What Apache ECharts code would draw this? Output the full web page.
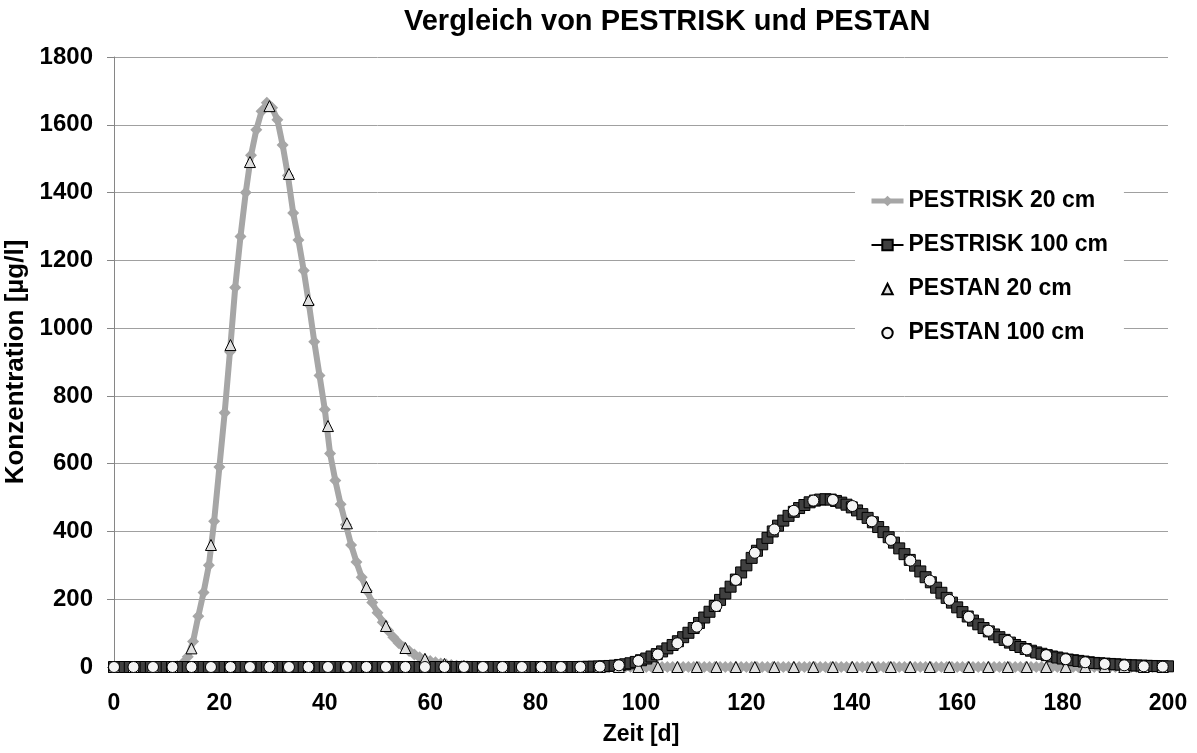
<!DOCTYPE html>
<html>
<head>
<meta charset="utf-8">
<script src="https://cdn.jsdelivr.net/npm/echarts@6/dist/echarts.min.js"></script>
<style>
  html, body { margin: 0; padding: 0; background: #fff; }
  #chart { width: 1197px; height: 753px; }
</style>
</head>
<body>
<div id="chart"></div>
<script>
// Zeitachse PESTRISK (Tage)
const riskDays = [
  0, 1, 2, 3, 4, 5, 6, 7, 8, 9, 10, 11, 12, 13, 14, 15, 16, 17, 18, 19,
  20, 21, 22, 23, 24, 25, 26, 27, 28, 29, 30, 31, 32, 33, 34, 35, 36, 37, 38, 39,
  40, 41, 42, 43, 44, 45, 46, 47, 48, 49, 50, 51, 52, 53, 54, 55, 56, 57, 58, 59,
  60, 61, 62, 63, 64, 65, 66, 67, 68, 69, 70, 71, 72, 73, 74, 75, 76, 77, 78, 79,
  80, 81, 82, 83, 84, 85, 86, 87, 88, 89, 90, 91, 92, 93, 94, 95, 96, 97, 98, 99,
  100, 101, 102, 103, 104, 105, 106, 107, 108, 109, 110, 111, 112, 113, 114, 115, 116, 117, 118, 119,
  120, 121, 122, 123, 124, 125, 126, 127, 128, 129, 130, 131, 132, 133, 134, 135, 136, 137, 138, 139,
  140, 141, 142, 143, 144, 145, 146, 147, 148, 149, 150, 151, 152, 153, 154, 155, 156, 157, 158, 159,
  160, 161, 162, 163, 164, 165, 166, 167, 168, 169, 170, 171, 172, 173, 174, 175, 176, 177, 178, 179,
  180, 181, 182, 183, 184, 185, 186, 187, 188, 189, 190, 191, 192, 193, 194, 195, 196, 197, 198, 199,
  200
]
const risk20 = [
  0, 0, 0, 0, 0, 0, 0, 0, 0, 0, 0, 0, 2, 10, 30, 75, 150, 220, 300, 430,
  590, 750, 930, 1120, 1270, 1400, 1510, 1585, 1640, 1665, 1650, 1615, 1540, 1450, 1340, 1260, 1170, 1070, 960, 860,
  760, 630, 550, 480, 420, 360, 310, 265, 225, 190, 160, 132, 108, 88, 71, 58, 47, 37, 29, 23,
  18, 14, 10, 8, 6, 4, 3, 2, 1, 1, 0, 0, 0, 0, 0, 0, 0, 0, 0, 0,
  0, 0, 0, 0, 0, 0, 0, 0, 0, 0, 0, 0, 0, 0, 0, 0, 0, 0, 0, 0,
  0, 0, 0, 0, 0, 0, 0, 0, 0, 0, 0, 0, 0, 0, 0, 0, 0, 0, 0, 0,
  0, 0, 0, 0, 0, 0, 0, 0, 0, 0, 0, 0, 0, 0, 0, 0, 0, 0, 0, 0,
  0, 0, 0, 0, 0, 0, 0, 0, 0, 0, 0, 0, 0, 0, 0, 0, 0, 0, 0, 0,
  0, 0, 0, 0, 0, 0, 0, 0, 0, 0, 0, 0, 0, 0, 0, 0, 0, 0, 0, 0,
  0, 0, 0, 0, 0, 0, 0, 0, 0, 0, 0, 0, 0, 0, 0, 0, 0, 0, 0, 0,
  0
]
const risk100 = [
  0, 0, 0, 0, 0, 0, 0, 0, 0, 0, 0, 0, 0, 0, 0, 0, 0, 0, 0, 0,
  0, 0, 0, 0, 0, 0, 0, 0, 0, 0, 0, 0, 0, 0, 0, 0, 0, 0, 0, 0,
  0, 0, 0, 0, 0, 0, 0, 0, 0, 0, 0, 0, 0, 0, 0, 0, 0, 0, 0, 0,
  0, 0, 0, 0, 0, 0, 0, 0, 0, 0, 0, 0, 0, 0, 0, 0, 0, 0, 0, 0,
  0, 0, 0, 0, 0, 0, 0, 0, 0, 0.3, 0.5, 1, 1.5, 2, 3, 4, 6, 8, 11, 15,
  20, 25, 31, 38, 46, 55, 65, 76, 88, 101, 115, 130, 146, 163, 180, 198, 217, 237, 258, 279,
  300, 322, 343, 362, 381, 400, 417, 432, 446, 458, 469, 478, 486, 491, 494, 495, 494, 490, 485, 479,
  471, 462, 451, 440, 427, 413, 398, 383, 367, 350, 333, 316, 299, 282, 265, 250, 234, 219, 204, 190,
  176, 162, 149, 137, 126, 115, 105, 96, 88, 80, 72, 65, 59, 53, 48, 43, 39, 35, 31, 28,
  25, 22, 20, 18, 16, 14, 12, 11, 10, 9, 8, 7, 6, 5, 4.5, 4, 3.5, 3, 2.5, 2,
  2
]
// Zeitachse PESTAN (Tage)
const pestanDays = [
  0, 3.7, 7.4, 11.1, 14.7, 18.4, 22.1, 25.8, 29.5, 33.2,
  36.9, 40.6, 44.2, 47.9, 51.6, 55.3, 59.0, 62.7, 66.4, 70.0,
  73.7, 77.4, 81.1, 84.8, 88.5, 92.2, 95.8, 99.5, 103.2, 106.9,
  110.6, 114.3, 118.0, 121.6, 125.3, 129.0, 132.7, 136.4, 140.1, 143.8,
  147.4, 151.1, 154.8, 158.5, 162.2, 165.9, 169.6, 173.2, 176.9, 180.6,
  184.3, 188.0, 191.7, 195.4, 199.0
]
const pestan20 = [
  0, 0, 0, 0, 55, 360, 950, 1490, 1655, 1455,
  1083, 711, 424, 236, 121, 56, 24, 9, 3, 1,
  0, 0, 0, 0, 0, 0, 0, 0, 0, 0,
  0, 0, 0, 0, 0, 0, 0, 0, 0, 0,
  0, 0, 0, 0, 0, 0, 0, 0, 0, 0,
  0, 0, 0, 0, 0
]
const pestan100 = [
  0, 0, 0, 0, 0, 0, 0, 0, 0, 0,
  0, 0, 0, 0, 0, 0, 0, 0, 0, 0,
  0, 0, 0, 0, 0, 1, 5, 18, 37, 70,
  119, 180, 257, 337, 406, 461, 491, 493, 475, 430,
  375, 314, 255, 198, 148, 107, 77, 52, 35, 23,
  14, 9, 5, 2, 1
]
const xTicks = { min: 0, max: 200, interval: 20 }
const yTicks = { min: 0, max: 1800, interval: 200 }

const pairs = (xs, ys) => xs.map((x, i) => [x, ys[i]])

const chart = echarts.init(document.getElementById('chart'))
const font = 'Liberation Sans, Arial, sans-serif'
const bold = { fontWeight: 'bold', color: '#000', fontFamily: font }
const option = {
  animation: false,
  textStyle: { fontFamily: font },
  title: {
    text: 'Vergleich von PESTRISK und PESTAN',
    left: 399,
    top: 2,
    textStyle: { ...bold, fontSize: 29 }
  },
  grid: { left: 114, right: 29, top: 57, bottom: 86, outerBoundsMode: 'none' },
  legend: {
    orient: 'vertical',
    left: 855,
    top: 179,
    backgroundColor: '#fff',
    padding: [10, 16, 10, 14],
    itemGap: 20,
    itemWidth: 32,
    itemHeight: 13,
    textStyle: { ...bold, fontSize: 23, lineHeight: 24 },
    data: [
      { name: 'PESTRISK 20 cm', lineStyle: { width: 5 } },
      { name: 'PESTRISK 100 cm' },
      { name: 'PESTAN 20 cm' },
      { name: 'PESTAN 100 cm' }
    ]
  },
  xAxis: {
    type: 'value',
    min: xTicks.min,
    max: xTicks.max,
    interval: xTicks.interval,
    name: 'Zeit [d]',
    nameLocation: 'middle',
    nameGap: 56,
    nameTextStyle: { ...bold, fontSize: 23 },
    axisLine: { lineStyle: { color: '#868686', width: 1 } },
    axisTick: { show: true, length: 5, lineStyle: { color: '#868686' } },
    axisLabel: { ...bold, fontSize: 23, margin: 25, formatter: v => String(v) },
    splitLine: { show: false }
  },
  yAxis: {
    type: 'value',
    min: yTicks.min,
    max: yTicks.max,
    interval: yTicks.interval,
    name: 'Konzentration [µg/l]',
    nameLocation: 'middle',
    nameGap: 81,
    nameTextStyle: { ...bold, fontSize: 26 },
    axisLine: { show: true, lineStyle: { color: '#868686', width: 1 } },
    axisTick: { show: true, length: 7, lineStyle: { color: '#868686' } },
    axisLabel: { ...bold, fontSize: 24, margin: 21, formatter: v => String(v) },
    splitLine: { lineStyle: { color: '#a0a0a0', width: 1 } }
  },
  series: [
    {
      name: 'PESTRISK 20 cm',
      type: 'line',
      data: pairs(riskDays, risk20),
      symbol: 'diamond',
      symbolSize: 12,
      showAllSymbol: true,
      lineStyle: { color: '#a6a6a6', width: 6 },
      itemStyle: { color: '#a6a6a6' },
      z: 2
    },
    {
      name: 'PESTRISK 100 cm',
      type: 'line',
      data: pairs(riskDays, risk100),
      symbol: 'rect',
      symbolSize: 11,
      showAllSymbol: true,
      lineStyle: { color: '#000', width: 2 },
      itemStyle: { color: '#404040', borderColor: '#000', borderWidth: 1 },
      z: 3
    },
    {
      // nur Marker, keine Verbindungslinie
      name: 'PESTAN 20 cm',
      type: 'line',
      data: pairs(pestanDays, pestan20),
      symbol: 'triangle',
      symbolSize: 11,
      showAllSymbol: true,
      lineStyle: { width: 0, opacity: 0 },
      itemStyle: { color: '#e0e0e0', borderColor: '#000', borderWidth: 1 },
      z: 4
    },
    {
      name: 'PESTAN 100 cm',
      type: 'line',
      data: pairs(pestanDays, pestan100),
      symbol: 'circle',
      symbolSize: 11,
      showAllSymbol: true,
      lineStyle: { width: 0, opacity: 0 },
      itemStyle: { color: '#f4f4f4', borderColor: '#000', borderWidth: 1 },
      z: 5
    }
  ]
}
chart.setOption(option)
</script>
</body>
</html>
